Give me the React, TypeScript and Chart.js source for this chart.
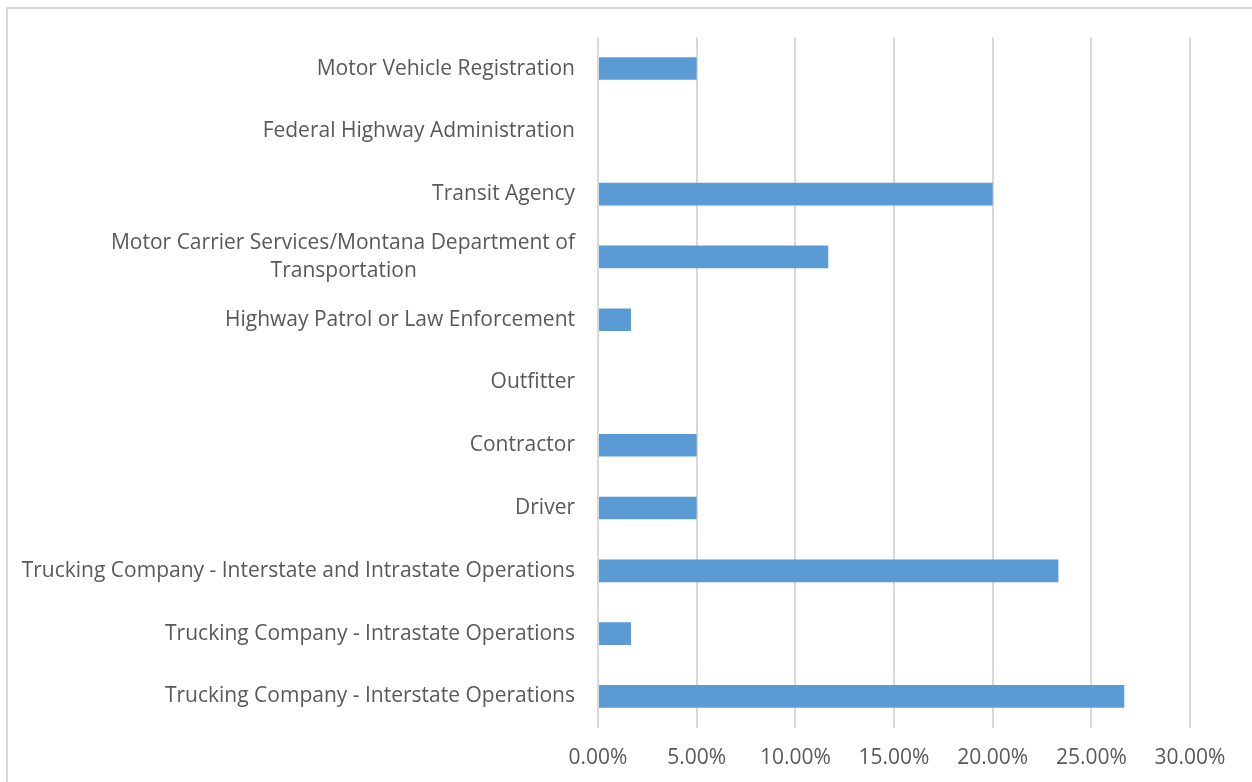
import React, { useEffect, useRef } from "react";
import { Chart, registerables } from "chart.js";

Chart.register(...registerables);

const categories: (string | string[])[] = [
  "Motor Vehicle Registration",
  "Federal Highway Administration",
  "Transit Agency",
  ["Motor Carrier Services/Montana Department of", "Transportation"],
  "Highway Patrol or Law Enforcement",
  "Outfitter",
  "Contractor",
  "Driver",
  "Trucking Company - Interstate and Intrastate Operations",
  "Trucking Company - Intrastate Operations",
  "Trucking Company - Interstate Operations",
];

const percentValues = [5, 0, 20, 11.67, 1.67, 0, 5, 5, 23.33, 1.67, 26.67];

const xTickMax = 30;
const xTickStep = 5;

const FONT_FAMILY = "'Open Sans', 'DejaVu Sans', sans-serif";
const FONT_SIZE = 21;

function centerLines(label: string | string[]): string | string[] {
  if (!Array.isArray(label)) return label;
  const c = document.createElement("canvas").getContext("2d")!;
  c.font = `${FONT_SIZE}px ${FONT_FAMILY}`;
  const widths = label.map((l) => c.measureText(l).width);
  const maxW = Math.max(...widths);
  const sp = c.measureText("\u00a0").width || c.measureText(" ").width;
  return label.map((l, i) => {
    const n = Math.round((maxW - widths[i]) / 2 / sp);
    return n > 0 ? l + "\u00a0".repeat(n) : l;
  });
}

export default function App() {
  const ref = useRef<HTMLCanvasElement>(null);

  useEffect(() => {
    if (!ref.current) return;
    const chart = new Chart(ref.current, {
      type: "bar",
      data: {
        labels: categories.map(centerLines),
        datasets: [
          {
            data: percentValues,
            backgroundColor: "#5b9bd5",
            borderWidth: 0,
            barPercentage: 0.36,
            categoryPercentage: 1,
          },
        ],
      },
      options: {
        indexAxis: "y",
        animation: false,
        responsive: false,
        maintainAspectRatio: false,
        layout: { padding: { top: 37, right: 62, bottom: 11, left: 6 } },
        plugins: {
          legend: { display: false },
          tooltip: { enabled: false },
        },
        scales: {
          x: {
            min: 0,
            max: xTickMax,
            border: { display: false },
            grid: { color: "#d9d9d9", lineWidth: 2, drawTicks: false },
            ticks: {
              stepSize: xTickStep,
              padding: 18,
              color: "#595959",
              font: { family: FONT_FAMILY, size: FONT_SIZE },
              callback: (v: any) => Number(v).toFixed(2) + "%",
            },
          },
          y: {
            border: { display: false },
            grid: { display: false, drawTicks: false },
            ticks: {
              padding: 23,
              color: "#595959",
              autoSkip: false,
              font: { family: FONT_FAMILY, size: FONT_SIZE, lineHeight: 1.35 },
            },
          },
        },
      },
    });
    return () => chart.destroy();
  }, []);

  return (
    <div style={{ position: "fixed", inset: 0, overflow: "hidden", background: "#fff" }}>
      <div
        style={{
          position: "absolute",
          left: 6,
          top: 7,
          width: 1300,
          height: 820,
          border: "2px solid #d9d9d9",
          boxSizing: "border-box",
        }}
      />
      <canvas
        ref={ref}
        width={1252}
        height={800}
        style={{ position: "absolute", left: 0, top: 0, width: 1252, height: 800 }}
      />
    </div>
  );
}
